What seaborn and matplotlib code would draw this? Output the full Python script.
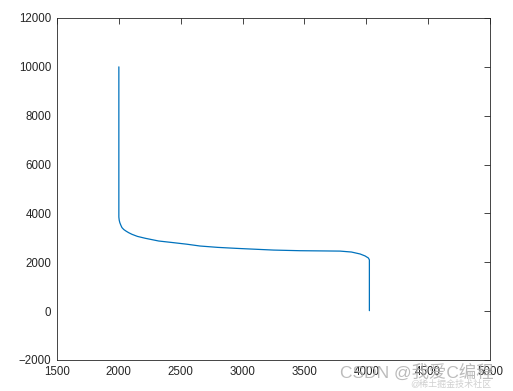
import matplotlib
matplotlib.use("Agg")
import matplotlib.pyplot as plt
import seaborn as sns
import pandas as pd

x_vals = [2000, 2000, 2003, 2008, 2015, 2025, 2040, 2060, 2080, 2106, 2150, 2214, 2322,
          2430, 2550, 2656, 2800, 2950, 3060, 3250, 3464, 3650, 3788, 3880, 3950, 3990,
          4017, 4025, 4025]
y_vals = [10000, 3850, 3720, 3620, 3530, 3420, 3340, 3270, 3210, 3145, 3060, 2982, 2871,
          2810, 2740, 2666, 2610, 2570, 2544, 2500, 2474, 2465, 2458, 2420, 2340, 2260,
          2175, 2100, 20]
x_ticks = [1500, 2000, 2500, 3000, 3500, 4000, 4500, 5000]
y_ticks = [-2000, 0, 2000, 4000, 6000, 8000, 10000, 12000]

sns.set_style("white")
plt.rcParams['font.family'] = ['Liberation Sans', 'Noto Sans CJK SC', 'DejaVu Sans']

df = pd.DataFrame({"x": x_vals, "y": y_vals})

fig = plt.figure(figsize=(5.13, 3.91), dpi=100)
ax = fig.add_axes([57/513, 31/391, 433/513, 342/391])
sns.lineplot(data=df, x="x", y="y", sort=False, estimator=None, color="#0072BD",
             linewidth=0.9, ax=ax)
ax.set_xlim(1500, 5000)
ax.set_ylim(-2000, 12000)
ax.set_xticks(x_ticks)
ax.set_yticks(y_ticks)
ax.set_xlabel("")
ax.set_ylabel("")
for s in ax.spines.values():
    s.set_visible(True)
    s.set_color("#262626")
    s.set_linewidth(0.6)
ax.tick_params(direction="in", length=4, width=0.6, colors="#262626",
               labelsize=8.3, top=True, right=True, pad=4)

fig.text(0.662, 0.048, "CSDN @我爱C编程", fontsize=12.5, color="#b0b0b0", alpha=0.85,
         va="center", ha="left")
fig.text(0.80, 0.018, "@稀土掘金技术社区", fontsize=6.5, color="#c8c8c8", alpha=0.85,
         va="center", ha="left")

fig.savefig("out.png", dpi=100)
